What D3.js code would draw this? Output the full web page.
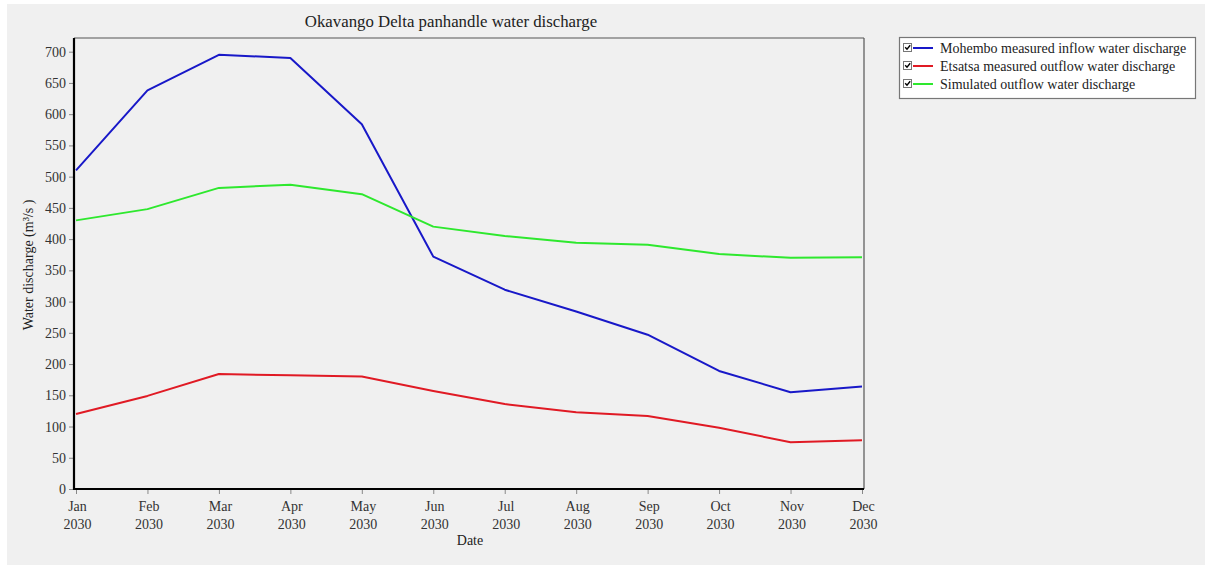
<!DOCTYPE html>
<html>
<head>
<meta charset="utf-8">
<script src="https://cdn.jsdelivr.net/npm/d3@7"></script>
<style>
  html, body { margin: 0; padding: 0; background: #ffffff; }
  svg { display: block; }
  text { font-family: "Liberation Serif", "Times New Roman", serif; }
</style>
</head>
<body>
<svg id="chart" width="1205" height="569"></svg>
<script>
// Monthly discharge, Okavango Delta panhandle (m³/s)
const months = ["Jan", "Feb", "Mar", "Apr", "May", "Jun", "Jul", "Aug", "Sep", "Oct", "Nov", "Dec"];
const year = "2030";
const mohemboInflow = [510, 638, 695, 690, 584, 372, 319, 284, 247, 189, 155, 164];
const etsatsaOutflow = [120, 149, 184, 182, 180, 157, 136, 123, 117, 98, 75, 78];
const simulatedOutflow = [430, 448, 482, 487, 472, 420, 405, 394, 391, 376, 370, 371];
const yTicks = [0, 50, 100, 150, 200, 250, 300, 350, 400, 450, 500, 550, 600, 650, 700];
const seriesNames = [
  "Mohembo measured inflow water discharge",
  "Etsatsa measured outflow water discharge",
  "Simulated outflow water discharge"
];

const series = [
  { name: seriesNames[0], values: mohemboInflow, color: "#1818c8" },
  { name: seriesNames[1], values: etsatsaOutflow, color: "#e01a24" },
  { name: seriesNames[2], values: simulatedOutflow, color: "#2ee82e" }
];

const svg = d3.select("#chart");

// panel background
svg.append("rect").attr("x", 7).attr("y", 4).attr("width", 1198).attr("height", 561)
  .attr("fill", "#f0f0f0");

const plot = { left: 74, right: 864, top: 38, bottom: 489 };

const x = d3.scalePoint().domain(months).range([76, 862]);
const y = d3.scaleLinear().domain([0, 700]).range([489, 51.7]);

// title
svg.append("text").attr("x", 451).attr("y", 27).attr("text-anchor", "middle")
  .attr("font-size", 16.8).attr("fill", "#222").text("Okavango Delta panhandle water discharge");

// frame: thin top/right, heavy left/bottom axes
svg.append("line").attr("x1", plot.left).attr("x2", plot.right).attr("y1", plot.top).attr("y2", plot.top)
  .attr("stroke", "#555").attr("stroke-width", 1.2);
svg.append("line").attr("x1", plot.right).attr("x2", plot.right).attr("y1", plot.top).attr("y2", plot.bottom)
  .attr("stroke", "#555").attr("stroke-width", 1.2);

// y axis
const yAxis = svg.append("g").attr("transform", `translate(${plot.left},0)`)
  .call(d3.axisLeft(y).tickValues(yTicks).tickSize(5).tickPadding(3).tickFormat(d3.format("d")));
yAxis.select(".domain").remove();
yAxis.selectAll(".tick line").attr("stroke", "#888");
yAxis.selectAll(".tick text").attr("font-size", 14).attr("fill", "#333")
  .style("font-family", "'Liberation Serif', serif");

// x axis
const xAxis = svg.append("g").attr("transform", `translate(0,${plot.bottom})`)
  .call(d3.axisBottom(x).tickSize(5).tickPadding(4));
xAxis.select(".domain").remove();
xAxis.selectAll(".tick line").attr("stroke", "#888");
xAxis.selectAll(".tick text").remove();
xAxis.selectAll(".tick").each(function (d) {
  const t = d3.select(this).append("text").attr("text-anchor", "middle")
    .attr("font-size", 14).attr("fill", "#333").style("font-family", "'Liberation Serif', serif");
  t.append("tspan").attr("x", 1).attr("y", 22).text(d);
  t.append("tspan").attr("x", 1).attr("y", 40).text(year);
});

// heavy axis lines
svg.append("line").attr("x1", plot.left).attr("x2", plot.left).attr("y1", plot.top).attr("y2", plot.bottom + 1)
  .attr("stroke", "#000").attr("stroke-width", 2.2);
svg.append("line").attr("x1", plot.left - 1).attr("x2", plot.right).attr("y1", plot.bottom).attr("y2", plot.bottom)
  .attr("stroke", "#000").attr("stroke-width", 2.2);

// axis titles
svg.append("text").attr("transform", "translate(33,265) rotate(-90)").attr("text-anchor", "middle")
  .attr("font-size", 14).attr("fill", "#222").text("Water discharge (m³/s )");
svg.append("text").attr("x", 470).attr("y", 545).attr("text-anchor", "middle")
  .attr("font-size", 14).attr("fill", "#222").text("Date");

// series lines
const line = d3.line().x((d, i) => x(months[i])).y(d => y(d));
svg.append("g").selectAll("path").data(series).join("path")
  .attr("d", d => line(d.values))
  .attr("fill", "none").attr("stroke", d => d.color).attr("stroke-width", 2)
  .attr("stroke-linejoin", "round");

// legend
const lg = svg.append("g");
lg.append("rect").attr("x", 899.5).attr("y", 37.5).attr("width", 296).attr("height", 61)
  .attr("fill", "#ffffff").attr("stroke", "#777").attr("stroke-width", 1.2);
const rows = lg.selectAll("g.row").data(series).join("g").attr("class", "row")
  .attr("transform", (d, i) => `translate(0,${50 + i * 18})`);
rows.append("rect").attr("x", 903.5).attr("y", -6.5).attr("width", 8).attr("height", 8)
  .attr("fill", "#fff").attr("stroke", "#777").attr("stroke-width", 1);
rows.append("path").attr("d", "M905.2,-2.8 L907,-0.8 L910.2,-4.8")
  .attr("fill", "none").attr("stroke", "#000").attr("stroke-width", 1.4);
rows.append("line").attr("x1", 913).attr("x2", 933).attr("y1", -2).attr("y2", -2)
  .attr("stroke", d => d.color).attr("stroke-width", 2);
rows.append("text").attr("x", 940).attr("y", 3).attr("font-size", 14).attr("fill", "#222")
  .text(d => d.name);
</script>
</body>
</html>
